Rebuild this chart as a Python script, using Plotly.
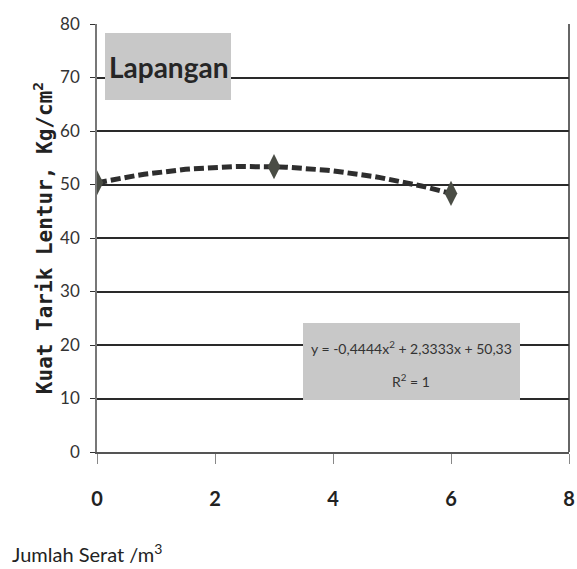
import numpy as np
import plotly.graph_objects as go

# Data
x_vals = [0, 3, 6]
y_vals = [50.33, 53.33, 48.33]
x_ticks = [0, 2, 4, 6, 8]
y_ticks = [0, 10, 20, 30, 40, 50, 60, 70, 80]
title_box = "Lapangan"
eq_line1 = "y = -0,4444x<sup>2</sup> + 2,3333x + 50,33"
eq_line2 = "R<sup>2</sup> = 1"

# Quadratic trendline fitted from the data points (as the spreadsheet does)
coef = np.polyfit(x_vals, y_vals, 2)
xt = np.linspace(min(x_vals), max(x_vals), 61)
yt = np.polyval(coef, xt)

narrow = "Lato, Roboto, sans-serif"

L, R, T, B = 97, 8, 24, 117
W, H = 577, 569
pw, ph = W - L - R, H - T - B


def px(xp):
    return (xp - L) / pw


def py(yp):
    return (H - B - yp) / ph


fig = go.Figure()
fig.add_trace(go.Scatter(x=xt, y=yt, mode="lines",
                         line=dict(color="#2e2e2e", width=5, dash="10px,4px"),
                         hoverinfo="skip", showlegend=False))
fig.add_trace(go.Scatter(x=x_vals, y=y_vals, mode="markers",
                         marker=dict(symbol="diamond-tall", size=18, color="#4a4d45"),
                         showlegend=False))

fig.update_layout(
    width=W, height=H,
    margin=dict(l=L, r=R, t=T, b=B, autoexpand=False),
    paper_bgcolor="white", plot_bgcolor="white",
    xaxis=dict(range=[0, 8], tickvals=x_ticks, ticks="outside", ticklen=10,
               tickcolor="#888", showgrid=False, zeroline=False,
               showline=True, linecolor="#555", linewidth=1.5, mirror=False,
               ticklabelstandoff=18, automargin=False,
               tickfont=dict(family=narrow, size=20, color="#222", weight="bold")),
    yaxis=dict(range=[0, 80], tickvals=y_ticks, ticks="outside", ticklen=5,
               tickcolor="#333", showgrid=True, gridcolor="#2a2a2a", gridwidth=1.5,
               zeroline=False, showline=True, linecolor="#777", linewidth=1.5,
               ticklabelstandoff=7, automargin=False,
               tickfont=dict(family=narrow, size=17, color="#333"),
               title=dict(text="Kuat Tarik Lentur, Kg/cm<sup>2</sup>", standoff=2,
                          font=dict(family="DejaVu Sans Mono, DejaVu Sans, monospace",
                                    size=21, color="#222", weight="bold"))),
)

# right border
fig.add_shape(type="line", xref="paper", yref="paper", x0=1, x1=1, y0=0, y1=1,
              line=dict(color="#333", width=1.5))

# Lapangan label box
fig.add_shape(type="rect", xref="paper", yref="paper",
              x0=px(105), x1=px(231), y0=py(100), y1=py(33),
              fillcolor="#c8c8c8", line=dict(width=0), layer="above")
fig.add_annotation(xref="paper", yref="paper", x=px(168), y=py(67),
                   xanchor="center", yanchor="middle",
                   text=title_box, showarrow=False,
                   font=dict(family=narrow, size=28, color="#262626", weight="bold"))

# equation box
fig.add_shape(type="rect", xref="paper", yref="paper",
              x0=px(303), x1=px(520), y0=py(400), y1=py(323),
              fillcolor="#c8c8c8", line=dict(width=0), layer="above")
fig.add_annotation(xref="paper", yref="paper", x=px(411), y=py(347),
                   xanchor="center", yanchor="middle",
                   text=eq_line1, showarrow=False,
                   font=dict(family=narrow, size=14, color="#333"))
fig.add_annotation(xref="paper", yref="paper", x=px(411), y=py(380),
                   xanchor="center", yanchor="middle",
                   text=eq_line2, showarrow=False,
                   font=dict(family=narrow, size=14, color="#333"))

# x axis title
fig.add_annotation(xref="paper", yref="paper", x=px(10), y=py(553),
                   xanchor="left", yanchor="middle",
                   text="Jumlah Serat /m<sup>3</sup>", showarrow=False,
                   font=dict(family=narrow, size=20, color="#222"))

fig.write_html("out.html")
